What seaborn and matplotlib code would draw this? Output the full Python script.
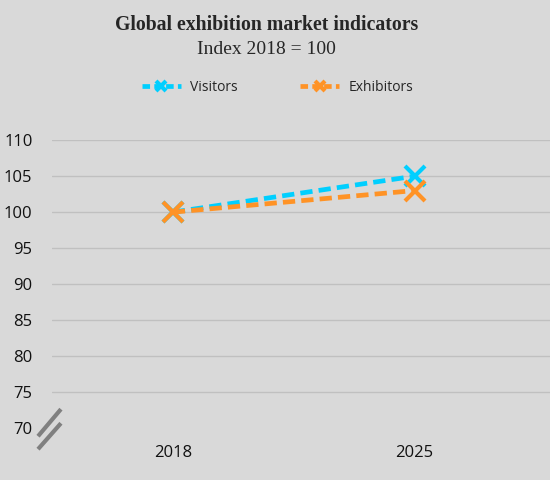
import matplotlib
matplotlib.use("Agg")
import matplotlib.pyplot as plt
import seaborn as sns
import pandas as pd
from matplotlib.lines import Line2D

# --- Data ---
years = ["2018", "2025"]
visitors = [100, 105]
exhibitors = [100, 103]
y_ticks = [70, 75, 80, 85, 90, 95, 100, 105, 110]

BG = "#D9D9D9"
CYAN = "#00CFFF"
ORANGE = "#FF9326"

df = pd.DataFrame({
    "year": years * 2,
    "value": visitors + exhibitors,
    "series": ["Visitors"] * len(years) + ["Exhibitors"] * len(years),
})

sns.set_style("white")
plt.rcParams["font.family"] = ["Open Sans", "DejaVu Sans"]

fig = plt.figure(figsize=(5.5, 4.8), dpi=100, facecolor=BG)
ax = fig.add_axes([0.0945, 0.108, 0.9055, 0.6])
ax.set_facecolor(BG)

palette = {"Visitors": CYAN, "Exhibitors": ORANGE}
sns.lineplot(data=df, x="year", y="value", hue="series", palette=palette,
             linewidth=3.4, marker="x", markersize=15, markeredgewidth=3,
             ax=ax, legend=False, sort=False)
for line in ax.lines:
    line.set_dashes((2.6, 1.3))
    line.set_markeredgecolor(line.get_color())
    line.set_markerfacecolor(line.get_color())

ax.set_xlim(-0.5, 1.56)
ax.set_ylim(70, 110)
ax.set_yticks(y_ticks)
ax.set_xlabel("")
ax.set_ylabel("")
for s in ax.spines.values():
    s.set_visible(False)
ax.tick_params(axis="both", length=0, labelsize=12, colors="#111111")
ax.tick_params(axis="y", pad=14)
ax.tick_params(axis="x", pad=12)

# gridlines for all but the bottom (broken) tick
for t in y_ticks[1:]:
    ax.axhline(t, color="#C0C0C0", linewidth=1, zorder=0)

# axis break marks
ax.plot([-0.028, 0.018], [-0.028, 0.066], transform=ax.transAxes,
        color="#808080", linewidth=3, clip_on=False, solid_capstyle="butt")
ax.plot([-0.028, 0.018], [-0.073, 0.017], transform=ax.transAxes,
        color="#808080", linewidth=3, clip_on=False, solid_capstyle="butt")

# legend
handles = [Line2D([], [], color=c, linewidth=3.4, dashes=(1.6, 0.9), marker="x",
                  markersize=7, markeredgewidth=3) for c in (CYAN, ORANGE)]
fig.legend(handles, ["Visitors", "Exhibitors"], loc="center", bbox_to_anchor=(0.505, 0.818),
           ncol=2, frameon=False, fontsize=10, handlelength=2.8, columnspacing=4.5,
           handletextpad=0.7)

fig.text(0.485, 0.948, "Global exhibition market indicators", ha="center", va="center",
         fontsize=14.2, fontweight="bold", family=["Liberation Serif", "DejaVu Serif"])
fig.text(0.485, 0.896, "Index 2018 = 100", ha="center", va="center",
         fontsize=14, family=["Liberation Serif", "DejaVu Serif"])

fig.savefig("out.png", dpi=100, facecolor=BG)
